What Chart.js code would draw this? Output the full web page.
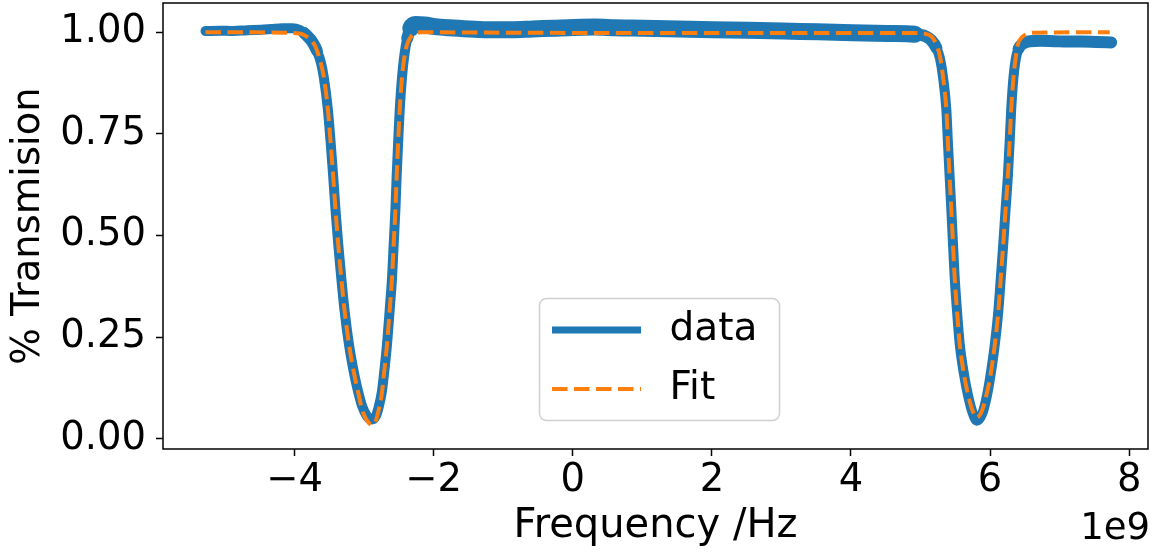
<!DOCTYPE html>
<html>
<head>
<meta charset="utf-8">
<script src="https://cdn.jsdelivr.net/npm/chart.js@4.4.1/dist/chart.umd.min.js"></script>
<style>
  html, body { margin: 0; padding: 0; background: #fff; }
  #wrap { width: 1153px; height: 553px; }
</style>
</head>
<body>
<div id="wrap"><canvas id="c" width="1153" height="553"></canvas></div>
<script>
// Frequencies are stored in units of 1e9 Hz (shown by the axis offset label).
const dataFreq = [
  -5.28, -5.08, -4.88, -4.68, -4.48, -4.33, -4.18, -4.03, -3.93, -3.86, -3.80, -3.74,
  -3.68, -3.62, -3.58, -3.52, -3.48, -3.444, -3.411, -3.373, -3.330, -3.282, -3.220,
  -3.135, -3.080, -3.028, -2.96, -2.885, -2.83, -2.79, -2.745, -2.718, -2.669, -2.632,
  -2.597, -2.574, -2.550, -2.532, -2.511, -2.488, -2.454, -2.42, -2.38, -2.33, -2.26,
  -2.13, -1.98, -1.78, -1.48, -1.18, -0.88, -0.58, -0.28, 0.02, 0.32, 0.62, 1.02, 1.52,
  2.02, 2.52, 3.02, 3.52, 4.02, 4.52, 4.92, 5.07, 5.156, 5.227, 5.28, 5.322, 5.371,
  5.394, 5.418, 5.443, 5.466, 5.490, 5.523, 5.562, 5.630, 5.681, 5.744, 5.81, 5.888,
  5.950, 6.003, 6.070, 6.120, 6.155, 6.190, 6.222, 6.255, 6.280, 6.303, 6.337, 6.37,
  6.41, 6.47, 6.57, 6.72, 6.92, 7.12, 7.32, 7.52, 7.74
];
const dataTrans = [
  1.003, 1.004, 1.003, 1.005, 1.006, 1.008, 1.010, 1.010, 1.006, 0.998, 0.988, 0.975,
  0.955, 0.925, 0.890, 0.809, 0.727, 0.645, 0.563, 0.481, 0.399, 0.317, 0.235,
  0.153, 0.112, 0.080, 0.056, 0.047, 0.056, 0.078, 0.115, 0.153, 0.235, 0.317,
  0.399, 0.481, 0.563, 0.645, 0.727, 0.809, 0.891, 0.945, 0.985, 1.010, 1.019,
  1.018, 1.014, 1.011, 1.008, 1.006, 1.006, 1.008, 1.010, 1.012, 1.013, 1.011, 1.010, 1.008,
  1.006, 1.005, 1.003, 1.001, 0.999, 0.997, 0.995, 0.990, 0.980, 0.962, 0.935, 0.891, 0.809,
  0.727, 0.645, 0.563, 0.481, 0.399, 0.317, 0.235, 0.153, 0.108, 0.066, 0.044, 0.062,
  0.102, 0.153, 0.235, 0.317, 0.399, 0.481, 0.563, 0.645, 0.727, 0.809, 0.891, 0.935,
  0.960, 0.972, 0.978, 0.979, 0.978, 0.977, 0.977, 0.976, 0.975
];
const fitFreq = [
  -5.28, -4.60, -4.20, -3.93, -3.83, -3.76, -3.70, -3.64, -3.58, -3.52, -3.48, -3.444,
  -3.411, -3.373, -3.330, -3.282, -3.220, -3.135, -3.080, -3.028, -2.96, -2.885, -2.83,
  -2.79, -2.745, -2.718, -2.669, -2.632, -2.597, -2.574, -2.550, -2.532, -2.511, -2.488,
  -2.454, -2.42, -2.382, -2.33, -2.26, -2.18, -1.00, 1.00, 3.00, 4.50, 4.92, 5.07,
  5.156, 5.227, 5.28, 5.322, 5.371, 5.394, 5.418, 5.443, 5.466, 5.490, 5.523, 5.562,
  5.630, 5.681, 5.744, 5.81, 5.888, 5.950, 6.003, 6.070, 6.120, 6.155, 6.190, 6.222,
  6.255, 6.280, 6.303, 6.337, 6.37, 6.399, 6.46, 6.52, 6.62, 7.72
];
const fitTrans = [
  1.000, 1.000, 0.999, 0.997, 0.990, 0.980, 0.965, 0.935, 0.891, 0.809, 0.727, 0.645,
  0.563, 0.481, 0.399, 0.317, 0.235, 0.153, 0.110, 0.071, 0.045, 0.034, 0.045,
  0.071, 0.111, 0.153, 0.235, 0.317, 0.399, 0.481, 0.563, 0.645, 0.727, 0.809,
  0.891, 0.940, 0.970, 0.988, 0.998, 1.000, 0.999, 0.998, 0.998, 0.998, 0.998, 0.996,
  0.990, 0.970, 0.940, 0.891, 0.809, 0.727, 0.645, 0.563, 0.481, 0.399, 0.317, 0.235,
  0.153, 0.110, 0.071, 0.052, 0.071, 0.110, 0.153, 0.235, 0.317, 0.399, 0.481, 0.563,
  0.645, 0.727, 0.809, 0.891, 0.940, 0.970, 0.988, 0.995, 0.999, 1.000
];
const xTicks = [-4, -2, 0, 2, 4, 6, 8];
const yTicks = [0, 0.25, 0.5, 0.75, 1.0];
const seriesNames = ['data', 'Fit'];
const xTitle = 'Frequency /Hz';
const yTitle = '% Transmision';
const xOffsetText = '1e9';

const BLUE = '#1f77b4';
const ORANGE = '#ff7f0e';
const FONT = 'DejaVu Sans';
const FIT_DASH = [15.5, 6.5];

Chart.defaults.font.family = FONT;
Chart.defaults.color = '#000';

// The measured trace is noisy: its band is wider on the flat parts.
function bandWidth(ctx) {
  const a = ctx.p0.parsed, b = ctx.p1.parsed;
  const lo = Math.min(a.y, b.y);
  if (lo < 0.95) return 10;
  if (lo < 0.995) return 12;
  const xm = (a.x + b.x) / 2;
  if (xm > -2.4 && xm < 5.1) return 17;
  if (xm > 6.4) return 14;
  return 10;
}

// Frame on all four sides, in-plot legend and the axis offset label.
const decorPlugin = {
  id: 'decor',
  afterDatasetsDraw(chart) {
    const { ctx, chartArea: a } = chart;
    ctx.save();
    ctx.strokeStyle = '#000';
    ctx.lineWidth = 1.5;
    ctx.strokeRect(a.left, a.top, a.right - a.left, a.bottom - a.top);

    // legend box
    const bx = 539.5, by = 298.5, bw = 240, bh = 122, r = 7;
    ctx.beginPath();
    ctx.moveTo(bx + r, by);
    ctx.arcTo(bx + bw, by, bx + bw, by + bh, r);
    ctx.arcTo(bx + bw, by + bh, bx, by + bh, r);
    ctx.arcTo(bx, by + bh, bx, by, r);
    ctx.arcTo(bx, by, bx + bw, by, r);
    ctx.closePath();
    ctx.fillStyle = 'rgba(255,255,255,0.8)';
    ctx.fill();
    ctx.strokeStyle = '#d0d0d0';
    ctx.lineWidth = 1.5;
    ctx.stroke();

    const rows = [
      { y: 330, color: BLUE, width: 7, dash: [] },
      { y: 389, color: ORANGE, width: 4, dash: FIT_DASH }
    ];
    rows.forEach((row, i) => {
      ctx.beginPath();
      ctx.setLineDash(row.dash);
      ctx.strokeStyle = row.color;
      ctx.lineWidth = row.width;
      ctx.lineCap = 'butt';
      ctx.moveTo(552, row.y);
      ctx.lineTo(641, row.y);
      ctx.stroke();
      ctx.setLineDash([]);
      ctx.fillStyle = '#000';
      ctx.font = '39px "' + FONT + '"';
      ctx.textAlign = 'left';
      ctx.textBaseline = 'middle';
      ctx.fillText(seriesNames[i], 669.5, row.y);
    });

    ctx.font = '37px "' + FONT + '"';
    ctx.textAlign = 'right';
    ctx.textBaseline = 'alphabetic';
    ctx.fillText(xOffsetText, 1150, 539);
    ctx.restore();
  }
};

const tickGrid = {
  drawOnChartArea: false,
  drawTicks: true,
  tickLength: 7,
  tickWidth: 1.5,
  tickColor: '#000'
};

new Chart(document.getElementById('c'), {
  type: 'line',
  data: {
    datasets: [
      {
        label: seriesNames[0],
        data: dataFreq.map((x, i) => ({ x, y: dataTrans[i] })),
        borderColor: BLUE,
        borderWidth: 10,
        borderJoinStyle: 'round',
        borderCapStyle: 'round',
        pointRadius: 0,
        cubicInterpolationMode: 'monotone',
        order: 2,
        segment: { borderWidth: bandWidth }
      },
      {
        label: seriesNames[1],
        data: fitFreq.map((x, i) => ({ x, y: fitTrans[i] })),
        borderColor: ORANGE,
        borderWidth: 4,
        borderDash: FIT_DASH,
        pointRadius: 0,
        cubicInterpolationMode: 'monotone',
        order: 1
      }
    ]
  },
  options: {
    responsive: false,
    animation: false,
    devicePixelRatio: 1,
    layout: { padding: { top: 3, right: 5, left: 0, bottom: 0 } },
    plugins: { legend: { display: false }, tooltip: { enabled: false } },
    scales: {
      x: {
        type: 'linear',
        min: -5.891,
        max: 8.27,
        afterFit: s => { s.height = 104; s.paddingLeft = 0; s.paddingRight = 0; },
        afterBuildTicks: s => { s.ticks = xTicks.map(v => ({ value: v })); },
        ticks: {
          autoSkip: false,
          maxRotation: 0,
          padding: 2,
          font: { size: 38.5 },
          color: '#000',
          callback: v => String(v).replace('-', '\u2212')
        },
        grid: tickGrid,
        border: { display: false },
        title: {
          display: true,
          text: xTitle,
          font: { size: 40 },
          color: '#000',
          padding: { top: 0, bottom: 2 }
        }
      },
      y: {
        type: 'linear',
        min: -0.0253,
        max: 1.072,
        afterFit: s => { s.width = 163; s.paddingTop = 0; s.paddingBottom = 0; },
        afterBuildTicks: s => { s.ticks = yTicks.map(v => ({ value: v })); },
        ticks: {
          autoSkip: false,
          padding: 10,
          font: { size: 38.5 },
          color: '#000',
          callback: v => Number(v).toFixed(2)
        },
        grid: tickGrid,
        border: { display: false },
        title: {
          display: true,
          text: yTitle,
          font: { size: 38.5 },
          color: '#000',
          padding: { top: 6, bottom: 0 }
        }
      }
    }
  },
  plugins: [decorPlugin]
});
</script>
</body>
</html>
